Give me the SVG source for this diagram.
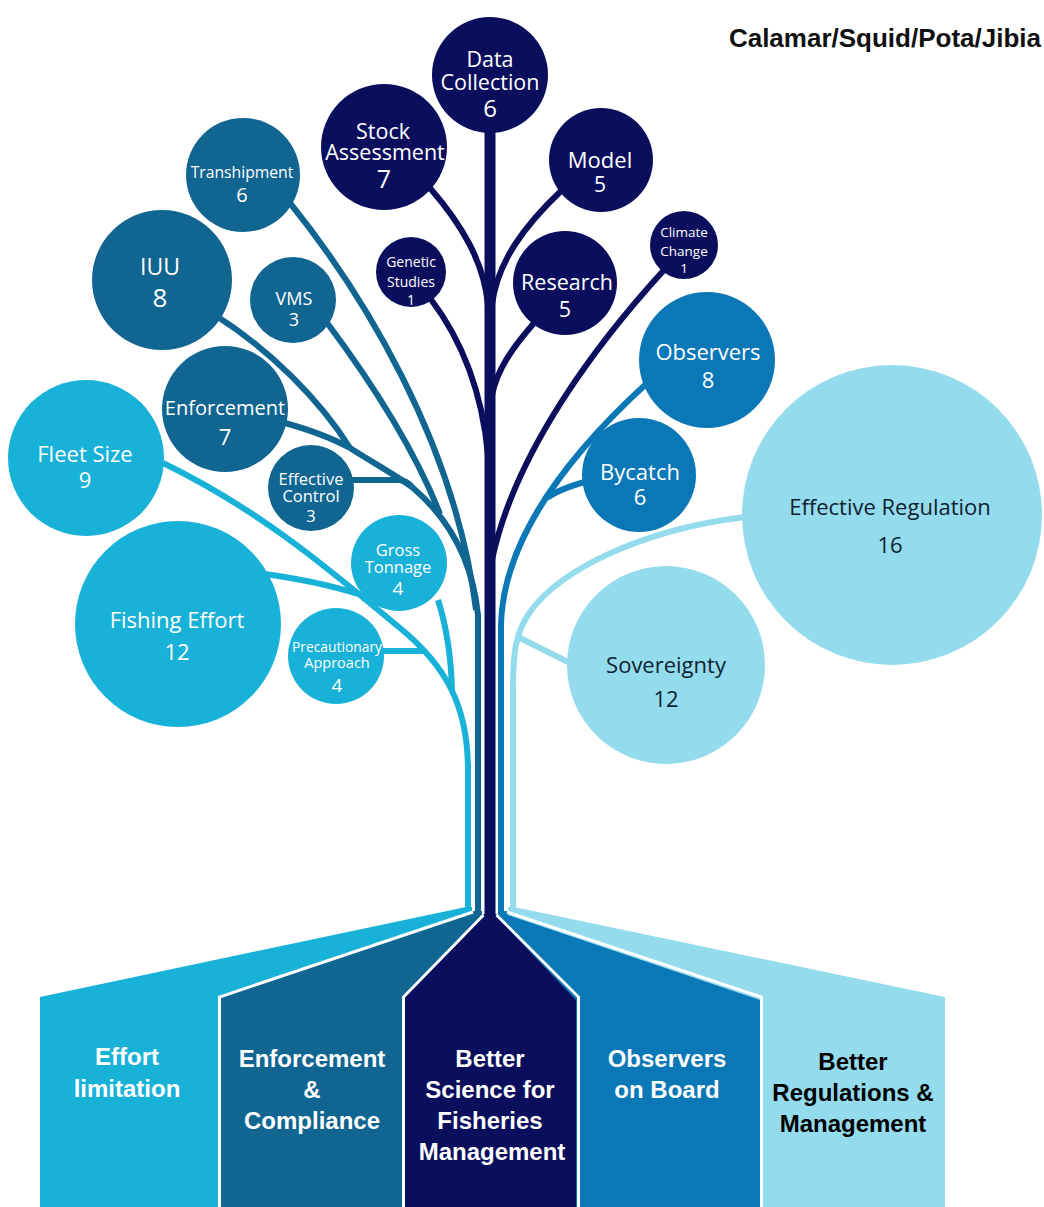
<svg xmlns="http://www.w3.org/2000/svg" width="1044" height="1207" viewBox="0 0 1044 1207">
<style>
.t{font-family:"Open Sans","Noto Sans",sans-serif;fill:#fff;text-anchor:middle}
.dk{fill:#10212f}
.b{font-family:"Liberation Sans",Arial,sans-serif;font-weight:bold;text-anchor:middle;font-size:24px;fill:#fff}
.bk{fill:#000}
.cy{fill:#18b1d8}.te{fill:#106591}.nv{fill:#0b0e5d}.bl{fill:#0a77b7}.lt{fill:#93dbed}
.l{fill:none;stroke-width:6}
.scy{stroke:#18b1d8}.ste{stroke:#106591}.snv{stroke:#0b0e5d}.sbl{stroke:#0a77b7}.slt{stroke:#93dbed}
.sep{fill:none;stroke:#fff;stroke-width:3}
</style>
<rect width="1044" height="1207" fill="#fff"/>
<text x="1041" y="47" font-family="Liberation Sans,Arial,sans-serif" font-weight="bold" font-size="26" text-anchor="end" fill="#111">Calamar/Squid/Pota/Jibia</text>

<g id="panels">
<g id="panel-effort"><polygon class="cy" points="40,1207 40,997 466,907 472,907 472,915 220,1000 220,1207"/><text class="b" x="127" y="1065">Effort</text><text class="b" x="127" y="1097">limitation</text></g>
<g id="panel-enforcement"><polygon class="te" points="218,1207 218,997 474,911 482,911 482,918 404,1000 404,1207"/><text class="b" x="312" y="1067">Enforcement</text><text class="b" x="312" y="1098">&amp;</text><text class="b" x="312" y="1129">Compliance</text></g>
<g id="panel-science"><polygon class="nv" points="403,1207 403,997 484,914 496,914 579,997 579,1207"/><text class="b" x="490" y="1067">Better</text><text class="b" x="490" y="1098">Science for</text><text class="b" x="490" y="1129">Fisheries</text><text class="b" x="492" y="1160">Management</text></g>
<g id="panel-observers"><polygon class="bl" points="762,1207 762,997 506,911 498,911 498,918 576,1000 576,1207"/><text class="b" x="667" y="1067">Observers</text><text class="b" x="667" y="1098">on Board</text></g>
<g id="panel-regulations"><polygon class="lt" points="945,1207 945,997 514,907 508,907 508,915 760,1000 760,1207"/><text class="b bk" x="853" y="1070">Better</text><text class="b bk" x="853" y="1101">Regulations &amp;</text><text class="b bk" x="853" y="1132">Management</text></g>
</g>

<g id="connectors">
<path class="snv" d="M490,120 L490,916" fill="none" stroke-width="11"/>
<path class="l snv" d="M430,188 C462,225 484,262 488,305"/>
<path class="l snv" d="M562,190 C525,225 497,262 492,305"/>
<path class="l snv" d="M430,298 C462,340 482,390 488,455"/>
<path class="l snv" d="M535,322 C512,348 497,370 492,395"/>
<path class="l snv" d="M664,270 C600,340 515,450 492,560"/>
<path class="l ste" d="M215,315 C270,350 320,400 350,448"/>
<path class="l ste" d="M285,423 C310,430 332,438 350,448"/>
<path class="l ste" d="M350,448 C372,462 395,475 412,487"/>
<path class="l ste" d="M350,480 L400,480 Q407,481 412,487"/>
<path class="l ste" d="M412,487 C445,515 472,555 478,615 L478,913"/>
<path class="l ste" d="M325,320 C370,380 415,450 440,514"/>
<path class="l ste" d="M290,203 C360,290 455,440 476,610"/>
<path class="l scy" d="M163,463 C260,510 330,570 400,628 C445,665 468,705 468,770 L468,912"/>
<path class="l scy" d="M265,574 C300,579 330,585 358,594"/>
<path class="l scy" d="M438,600 C446,625 451,655 452,690"/>
<path class="l scy" d="M380,651 L426,651"/>
<path class="l sbl" d="M645,385 C585,440 503,530 501,625 L501,913"/>
<path class="l sbl" d="M588,481 C570,486 556,491 547,498"/>
<path class="l slt" d="M745,517 C640,530 560,570 530,612 C516,632 513,650 513,690 L513,912"/>
<path class="l slt" d="M570,663 L518,637"/>
<path class="sep" d="M473,912 L219.5,997 L219.5,1207"/>
<path class="sep" d="M483.5,915 L403.5,997 L403.5,1207"/>
<path class="sep" d="M496.5,915 L578.5,997 L578.5,1207"/>
<path class="sep" d="M507,912 L761.5,997 L761.5,1207"/>
</g>

<g id="data-collection"><circle class="nv" cx="490" cy="75" r="58"/><text class="t" font-size="21.5"><tspan x="490" y="67">Data</tspan><tspan x="490" y="90">Collection</tspan><tspan x="490" y="117" font-size="24">6</tspan></text></g>
<g id="stock-assessment"><circle class="nv" cx="384" cy="147" r="63"/><text class="t" font-size="21.5"><tspan x="383" y="139">Stock</tspan><tspan x="385" y="160">Assessment</tspan><tspan x="384" y="188" font-size="25">7</tspan></text></g>
<g id="model"><circle class="nv" cx="601" cy="160" r="52"/><text class="t" font-size="22"><tspan x="600" y="168">Model</tspan><tspan x="600" y="192" font-size="21">5</tspan></text></g>
<g id="research"><circle class="nv" cx="565" cy="283" r="52"/><text class="t" font-size="21.5"><tspan x="567" y="290">Research</tspan><tspan x="565" y="317">5</tspan></text></g>
<g id="genetic-studies"><circle class="nv" cx="411" cy="272" r="35"/><text class="t" font-size="14"><tspan x="411" y="267">Genetic</tspan><tspan x="411" y="287">Studies</tspan><tspan x="411" y="305">1</tspan></text></g>
<g id="climate-change"><circle class="nv" cx="684" cy="245" r="34"/><text class="t" font-size="13.5"><tspan x="684" y="237">Climate</tspan><tspan x="684" y="256">Change</tspan><tspan x="684" y="273">1</tspan></text></g>
<g id="transhipment"><circle class="te" cx="243" cy="175" r="57"/><text class="t" font-size="15.7"><tspan x="242" y="178">Transhipment</tspan><tspan x="242" y="202" font-size="20">6</tspan></text></g>
<g id="iuu"><circle class="te" cx="162" cy="280" r="70"/><text class="t" font-size="23"><tspan x="160" y="275">IUU</tspan><tspan x="160" y="307" font-size="26">8</tspan></text></g>
<g id="vms"><circle class="te" cx="293" cy="300" r="43"/><text class="t" font-size="18"><tspan x="294" y="305">VMS</tspan><tspan x="294" y="326">3</tspan></text></g>
<g id="enforcement"><circle class="te" cx="225" cy="409" r="63"/><text class="t" font-size="20"><tspan x="225" y="415">Enforcement</tspan><tspan x="225" y="445" font-size="22">7</tspan></text></g>
<g id="effective-control"><circle class="te" cx="311" cy="488" r="43"/><text class="t" font-size="16.5"><tspan x="311" y="485">Effective</tspan><tspan x="311" y="502">Control</tspan><tspan x="311" y="522">3</tspan></text></g>
<g id="fleet-size"><circle class="cy" cx="86" cy="458" r="78"/><text class="t" font-size="22"><tspan x="85" y="462">Fleet Size</tspan><tspan x="85" y="488">9</tspan></text></g>
<g id="gross-tonnage"><circle class="cy" cx="399" cy="563" r="48"/><text class="t" font-size="16.5"><tspan x="398" y="556">Gross</tspan><tspan x="398" y="573">Tonnage</tspan><tspan x="398" y="595" font-size="19">4</tspan></text></g>
<g id="fishing-effort"><circle class="cy" cx="178" cy="624" r="103"/><text class="t" font-size="22"><tspan x="177" y="628">Fishing Effort</tspan><tspan x="177" y="660">12</tspan></text></g>
<g id="precautionary-approach"><circle class="cy" cx="336" cy="656" r="48"/><text class="t" font-size="14.5"><tspan x="337" y="652" textLength="90" lengthAdjust="spacingAndGlyphs">Precautionary</tspan><tspan x="337" y="668">Approach</tspan><tspan x="337" y="692" font-size="19">4</tspan></text></g>
<g id="observers"><circle class="bl" cx="707" cy="360" r="68"/><text class="t" font-size="22"><tspan x="708" y="360">Observers</tspan><tspan x="708" y="388">8</tspan></text></g>
<g id="bycatch"><circle class="bl" cx="639" cy="475" r="57"/><text class="t" font-size="22"><tspan x="640" y="480">Bycatch</tspan><tspan x="640" y="505">6</tspan></text></g>
<g id="effective-regulation"><circle class="lt" cx="892" cy="515" r="150"/><text class="t dk" font-size="22"><tspan x="890" y="515">Effective Regulation</tspan><tspan x="890" y="553">16</tspan></text></g>
<g id="sovereignty"><circle class="lt" cx="666" cy="665" r="99"/><text class="t dk" font-size="22"><tspan x="666" y="673">Sovereignty</tspan><tspan x="666" y="707">12</tspan></text></g>
</svg>
